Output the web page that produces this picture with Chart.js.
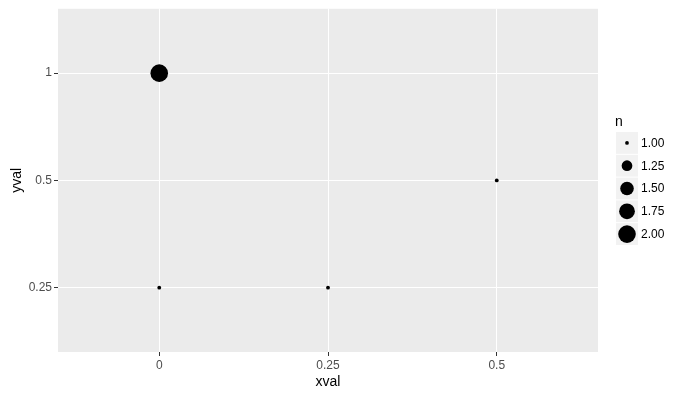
<!DOCTYPE html>
<html>
<head>
<meta charset="utf-8">
<script src="https://cdn.jsdelivr.net/npm/chart.js@4"></script>
<style>
html,body{margin:0;padding:0;background:#fff;}
#wrap{width:690px;height:397px;}
</style>
</head>
<body>
<div id="wrap"><canvas id="c" width="690" height="397"></canvas></div>
<script>
// discrete axis categories
const xCategories = ['0', '0.25', '0.5'];
const yCategories = ['0.25', '0.5', '1'];
// observations
const xval = ['0', '0', '0.25', '0.5'];
const yval = ['1', '0.25', '0.25', '0.5'];
const nval = [2, 1, 1, 1];
// size legend breaks
const legendBreaks = [1.00, 1.25, 1.50, 1.75, 2.00];
const legendLabels = ['1.00', '1.25', '1.50', '1.75', '2.00'];

function sizeToRadius(n) { return 1.9 + 6.9 * Math.sqrt(Math.max(0, n - 1)); }

const points = xval.map((x, i) => ({
  x: xCategories.indexOf(x),
  y: yCategories.indexOf(yval[i]),
  n: nval[i]
}));

const panelBg = {
  id: 'panelBg',
  beforeDraw(chart) {
    const {ctx, chartArea: a} = chart;
    ctx.save();
    ctx.fillStyle = '#EBEBEB';
    ctx.fillRect(a.left, a.top, a.right - a.left, a.bottom - a.top);
    ctx.restore();
  }
};

const sizeLegend = {
  id: 'sizeLegend',
  afterDraw(chart) {
    const ctx = chart.ctx;
    ctx.save();
    ctx.fillStyle = '#000';
    ctx.font = '14px "Liberation Sans", Arial, sans-serif';
    ctx.textBaseline = 'alphabetic';
    ctx.textAlign = 'left';
    ctx.fillText('n', 615, 126);
    const x0 = 616, y0 = 132, w = 22, step = 22.8;
    legendBreaks.forEach((b, i) => {
      const y = y0 + i * step;
      ctx.fillStyle = '#F2F2F2';
      ctx.fillRect(x0, y, w, step - 1);
      ctx.fillStyle = '#000';
      ctx.beginPath();
      ctx.arc(x0 + w / 2, y + (step - 1) / 2, sizeToRadius(b), 0, Math.PI * 2);
      ctx.fill();
      ctx.font = '12px "Liberation Sans", Arial, sans-serif';
      ctx.textBaseline = 'middle';
      ctx.fillText(legendLabels[i], 641, y + (step - 1) / 2 + 0.5);
    });
    ctx.restore();
  }
};

const tickFont = {family: '"Liberation Sans", Arial, sans-serif', size: 12};
const titleFont = {family: '"Liberation Sans", Arial, sans-serif', size: 14};

new Chart(document.getElementById('c'), {
  type: 'scatter',
  data: {
    datasets: [{
      data: points,
      backgroundColor: '#000',
      borderColor: '#000',
      borderWidth: 0,
      pointRadius: ctx => sizeToRadius(ctx.raw.n),
      pointHoverRadius: ctx => sizeToRadius(ctx.raw.n)
    }]
  },
  options: {
    responsive: false,
    animation: false,
    layout: {padding: {top: 7, right: 92, left: 0, bottom: 0}},
    plugins: {legend: {display: false}, tooltip: {enabled: false}},
    scales: {
      x: {
        type: 'linear',
        min: -0.6, max: 2.6,
        afterBuildTicks: s => { s.ticks = xCategories.map((c, i) => ({value: i})); },
        afterFit: s => { s.height = 45; s.paddingLeft = 0; s.paddingRight = 0; },
        ticks: {
          callback: v => xCategories[v],
          color: '#4D4D4D', font: tickFont, padding: 2, maxRotation: 0, autoSkip: false
        },
        grid: {color: '#FFFFFF', lineWidth: 1, tickColor: '#333333', tickLength: 4, tickWidth: 1},
        border: {display: false},
        title: {display: true, text: 'xval', color: '#000', font: titleFont, padding: {top: 0, bottom: 6}}
      },
      y: {
        type: 'linear',
        min: -0.6, max: 2.6,
        afterBuildTicks: s => { s.ticks = yCategories.map((c, i) => ({value: i})); },
        afterFit: s => { s.width = 58; s.paddingTop = 0; s.paddingBottom = 0; },
        ticks: {
          callback: v => yCategories[v],
          color: '#4D4D4D', font: tickFont, padding: 2, autoSkip: false
        },
        grid: {color: '#FFFFFF', lineWidth: 1, tickColor: '#333333', tickLength: 4, tickWidth: 1},
        border: {display: false},
        title: {display: true, text: 'yval', color: '#000', font: titleFont, padding: {top: 9, bottom: 0}}
      }
    }
  },
  plugins: [panelBg, sizeLegend]
});
</script>
</body>
</html>
